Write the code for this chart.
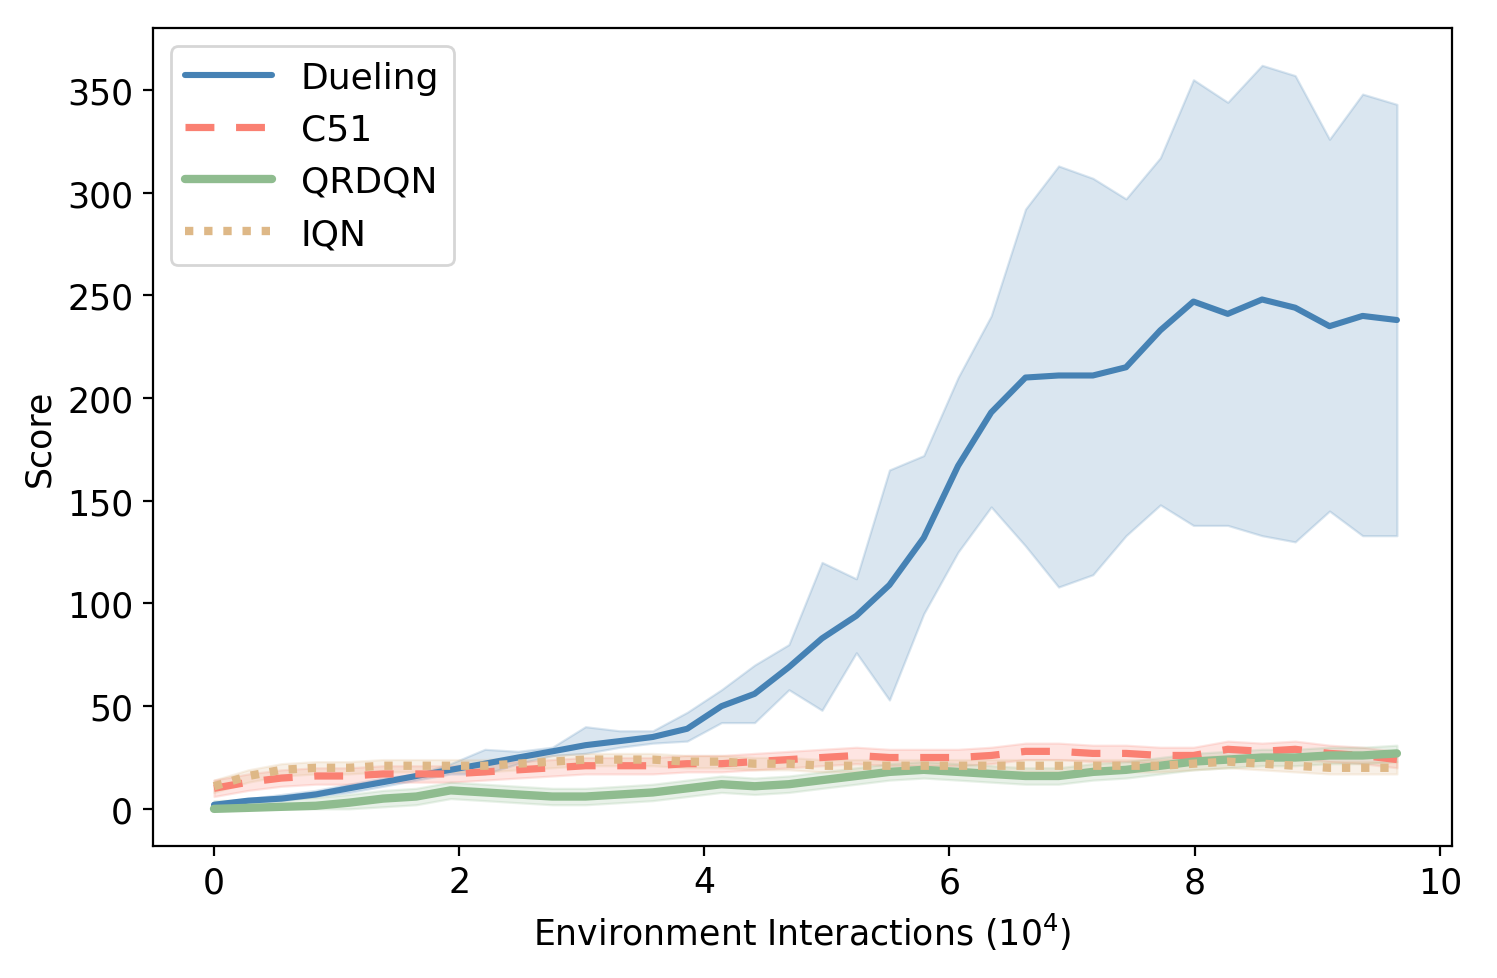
import numpy as np, pandas as pd, seaborn as sns, matplotlib
matplotlib.use("Agg")
import matplotlib.pyplot as plt

x = [0.00,0.28,0.55,0.83,1.10,1.38,1.65,1.93,2.21,2.48,2.76,3.03,3.31,3.58,3.86,4.14,4.41,4.69,
     4.96,5.24,5.51,5.79,6.07,6.34,6.62,6.89,7.17,7.44,7.72,7.99,8.27,8.55,8.82,9.10,9.37,9.65]
dueling = [2,4,5,7,10,13,16,19,22,25,28,31,33,35,39,50,56,69,83,94,109,132,167,193,210,211,211,215,233,247,241,248,244,235,240,238]
dueling_hi = [3,5,7,9,12,15,17,22,29,28,30,40,38,38,47,58,70,80,120,112,165,172,210,240,292,313,307,297,317,355,344,362,357,326,348,343]
dueling_lo = [1,3,4,6,8,11,14,17,17,22,26,27,30,32,33,42,42,58,48,76,53,95,125,147,128,108,114,133,148,138,138,133,130,145,133,133]
c51 = [10,13,15,16,16,17,17,17,18,19,20,21,21,21,22,22,23,24,25,26,25,25,25,26,28,28,27,27,26,26,29,28,29,27,26,24]
qrdqn = [0,0.5,1,1.5,3,5,6,9,8,7,6,6,7,8,10,12,11,12,14,16,18,19,18,17,16,16,18,19,21,23,24,25,25,26,26,27]
iqn = [11,16,19,20,20,21,21,21,21,22,23,24,24,24,23,23,22,22,21,21,21,21,21,21,21,21,21,21,21,22,23,22,21,20,20,20]
c51_w, qr_w, iqn_w = 4, 4, 3

sns.set_style("ticks")
plt.rcParams['font.family'] = ['DejaVu Sans']
plt.rcParams.update({'text.color': 'black', 'axes.labelcolor': 'black', 'xtick.color': 'black',
                     'ytick.color': 'black', 'axes.edgecolor': 'black'})
fig, ax = plt.subplots(figsize=(7.485, 4.895), dpi=200)
xs = np.array(x)

series = [("Dueling", np.array(dueling), np.array(dueling_lo), np.array(dueling_hi), "#4682b4", "-", 2.2),
          ("C51", np.array(c51), np.array(c51)-c51_w, np.array(c51)+c51_w, "#fa8072", (0,(4,3)), 2.6),
          ("QRDQN", np.array(qrdqn), np.array(qrdqn)-qr_w, np.array(qrdqn)+qr_w, "#8fbc8f", "-", 3),
          ("IQN", np.array(iqn), np.array(iqn)-iqn_w, np.array(iqn)+iqn_w, "#deb887", (0,(1,1.3)), 3)]
for name, m, lo, hi, c, ls, lw in series:
    ax.fill_between(xs, np.clip(lo, 0, None), hi, color=c, alpha=0.2, lw=0.8)
    sns.lineplot(x=xs, y=m, ax=ax, color=c, linestyle=ls, lw=lw, label=name)

ax.set_xlim(-0.5, 10.1)
ax.set_ylim(-18, 380)
ax.set_xticks([0,2,4,6,8,10])
ax.set_yticks(range(0, 351, 50))
ax.set_xlabel("Environment Interactions ($10^4$)", fontsize=12.5)
ax.set_ylabel("Score", fontsize=12.5)
ax.tick_params(labelsize=12.5)
ax.legend(loc="upper left", fontsize=13, handlelength=2.4)
fig.subplots_adjust(left=0.102, right=0.97, bottom=0.135, top=0.97)
fig.savefig("out.png", dpi=200)
